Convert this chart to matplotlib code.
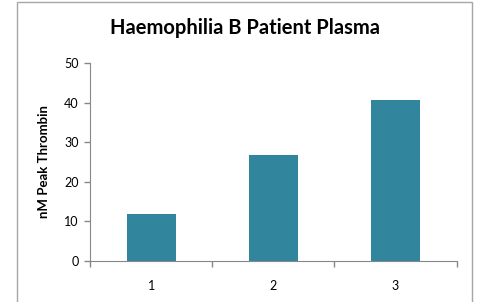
import matplotlib
matplotlib.use('Agg')
import matplotlib.pyplot as plt
from matplotlib.patches import Rectangle

categories = ['1', '2', '3']
peak_thrombin = [11.8, 26.8, 40.7]
y_ticks = [0, 10, 20, 30, 40, 50]

plt.rcParams['font.family'] = ['Lato', 'DejaVu Sans']

fig = plt.figure(figsize=(4.79, 3.02), dpi=100)
W, H = 479, 302

# chart area border
fig.patches.append(Rectangle((17 / W, -0.05), (472 - 17) / W, 1.05 - 2 / H,
                             transform=fig.transFigure, fill=False,
                             edgecolor='#a6a6a6', linewidth=1.0))

ax = fig.add_axes([90 / W, 1 - 260.7 / H, (456.7 - 90) / W, (260.7 - 63.3) / H])
x = range(len(categories))
ax.bar(x, peak_thrombin, width=0.4, color='#31859c')

ax.set_xlim(-0.5, len(categories) - 0.5)
ax.set_ylim(0, 50)
ax.set_yticks(y_ticks)
ax.set_xticks(x)
ax.set_xticklabels(categories)
ax.set_xticks([i - 0.5 for i in range(len(categories) + 1)], minor=True)
ax.tick_params(axis='x', which='major', length=0, pad=14, labelsize=9)
ax.tick_params(axis='x', which='minor', length=4, color='#888888', width=1)
ax.tick_params(axis='y', length=4, color='#888888', width=1, labelsize=9, pad=4)

for side in ['top', 'right']:
    ax.spines[side].set_visible(False)
for side in ['left', 'bottom']:
    ax.spines[side].set_color('#888888')

ax.set_ylabel('nM Peak Thrombin', fontsize=9.5, fontweight='bold', labelpad=10)
fig.text(245 / W, 1 - 28 / H, 'Haemophilia B Patient Plasma', ha='center', va='center',
         fontsize=14.5, fontweight='bold')

plt.savefig('out.png', dpi=100)
